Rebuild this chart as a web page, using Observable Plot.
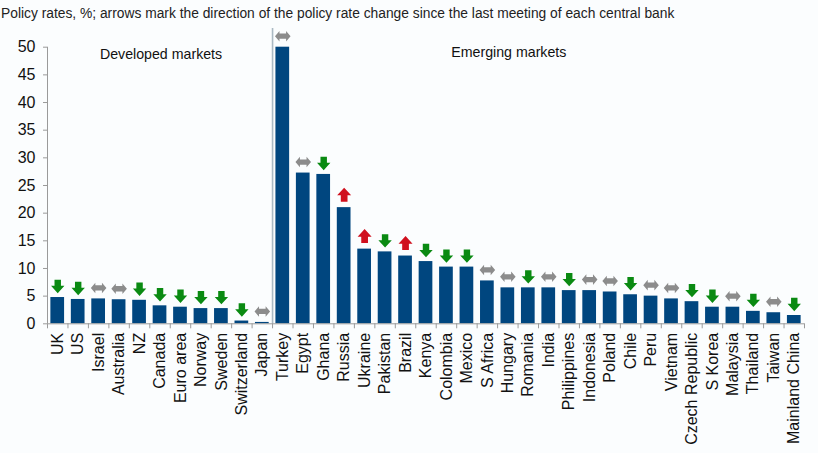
<!DOCTYPE html>
<html><head><meta charset="utf-8">
<script src="https://cdn.jsdelivr.net/npm/d3@7"></script>
<script src="https://cdn.jsdelivr.net/npm/@observablehq/plot@0.6"></script>
<style>
body{margin:0;background:#fbfdfe;font-family:"Liberation Sans",Arial,sans-serif;}
#title{font-size:13.8px;line-height:18px;padding:5px 0 0 1px;height:18px;color:#222;white-space:nowrap;}
#chart svg{display:block;}
</style></head><body>
<div id="title">Policy rates, %; arrows mark the direction of the policy rate change since the last meeting of each central bank</div>
<div id="chart"></div>
<script>
const countries = ["UK","US","Israel","Australia","NZ","Canada","Euro area","Norway","Sweden","Switzerland","Japan",
  "Turkey","Egypt","Ghana","Russia","Ukraine","Pakistan","Brazil","Kenya","Colombia","Mexico","S Africa","Hungary",
  "Romania","India","Philippines","Indonesia","Poland","Chile","Peru","Vietnam","Czech Republic","S Korea","Malaysia",
  "Thailand","Taiwan","Mainland China"];
const rates = [4.75,4.4,4.5,4.35,4.25,3.25,3.0,2.75,2.75,0.5,0.25,
  50,27.25,27,21,13.5,13,12.25,11.25,10.25,10.25,7.75,6.5,
  6.5,6.5,6.0,6.0,5.75,5.25,5.0,4.5,4.0,3.0,3.0,
  2.25,2.0,1.5];
const directions = ["down","down","flat","flat","down","down","down","down","down","down","flat",
  "flat","flat","down","up","up","down","up","down","down","down","flat","flat",
  "down","flat","down","flat","flat","down","flat","flat","down","down","flat",
  "down","flat","down"];
const yTicks = [0,5,10,15,20,25,30,35,40,45,50];
const groupLabels = ["Developed markets","Emerging markets"];
const groupAnchors = ["Canada","Hungary"];
const groupY = [48.7,49.1];
const separatorAt = "Turkey";

const W = 818, ML = 47, MR = 14;
const step = (W - ML - MR) / countries.length;

const data = countries.map((c,i)=>({country:c, rate:rates[i], dir:directions[i]}));
const groups = groupLabels.map((t,i)=>({label:t, x:groupAnchors[i], y:groupY[i]}));

function poly(pts){
  return {draw(ctx,size){
    const r = Math.sqrt(size/Math.PI);
    pts.forEach(([x,y],i)=> i ? ctx.lineTo(x*r,y*r) : ctx.moveTo(x*r,y*r));
    ctx.closePath();
  }};
}
const downPts = [[-0.48,-1],[0.48,-1],[0.48,-0.1],[1,-0.1],[0,1],[-1,-0.1],[-0.48,-0.1]];
const downArrow = poly(downPts);
const upArrow = poly(downPts.map(([x,y])=>[x,-y]));
const flatArrow = poly([[-1.18,0],[-0.5,-0.8],[-0.5,-0.4],[0.5,-0.4],[0.5,-0.8],[1.18,0],[0.5,0.8],[0.5,0.4],[-0.5,0.4],[-0.5,0.8]]);

const axisGray = "#9a9a9a";
const plot = Plot.plot({
  width: W, height: 430,
  marginLeft: ML, marginRight: MR, marginTop: 23.7, marginBottom: 129.7,
  style: {background:"transparent", fontFamily:"Liberation Sans, Arial, sans-serif", color:"#111", overflow:"visible"},
  x: {domain: countries, paddingInner: 0.33, paddingOuter: 0.165, round: false, label: null},
  y: {domain: [0,50], label: null},
  marks: [
    Plot.ruleX([separatorAt], {dx: -step/2, y1: 0, y2: 53.4, stroke: "#aab9c3", strokeWidth: 1.6}),
    Plot.barY(data, {x: "country", y: "rate", fill: "#00467f"}),
    Plot.ruleY([0], {stroke: axisGray}),
    Plot.ruleX([countries[0]], {dx: -step/2, y1: 0, y2: 50, stroke: axisGray}),
    Plot.ruleX(countries, {dx: -step/2, y1: 0, y2: 0, insetBottom: -5, stroke: axisGray}),
    Plot.ruleX([countries[countries.length-1]], {dx: step/2, y1: 0, y2: 0, insetBottom: -5, stroke: axisGray}),
    Plot.axisY({ticks: yTicks, tickSize: 4, tickPadding: 8, fontSize: 16, stroke: axisGray, fill: "#111"}),
    Plot.axisX({tickSize: 0, tickRotate: -90, tickPadding: 9, fontSize: 16, fill: "#111"}),
    Plot.dot(data.filter(d=>d.dir==="down"), {x: "country", y: "rate", dy: -11, r: 6.7, symbol: downArrow, fill: "#0a8a12"}),
    Plot.dot(data.filter(d=>d.dir==="up"), {x: "country", y: "rate", dy: -13, r: 7, symbol: upArrow, fill: "#d0101e"}),
    Plot.dot(data.filter(d=>d.dir==="flat"), {x: "country", y: "rate", dy: -11, r: 6.6, symbol: flatArrow, fill: "#8c8c8c"}),
    Plot.text(groups, {x: "x", y: "y", text: "label", fontSize: 14.2, fill: "#111", dx: 1})
  ]
});
document.getElementById("chart").appendChild(plot);
</script>
</body></html>
